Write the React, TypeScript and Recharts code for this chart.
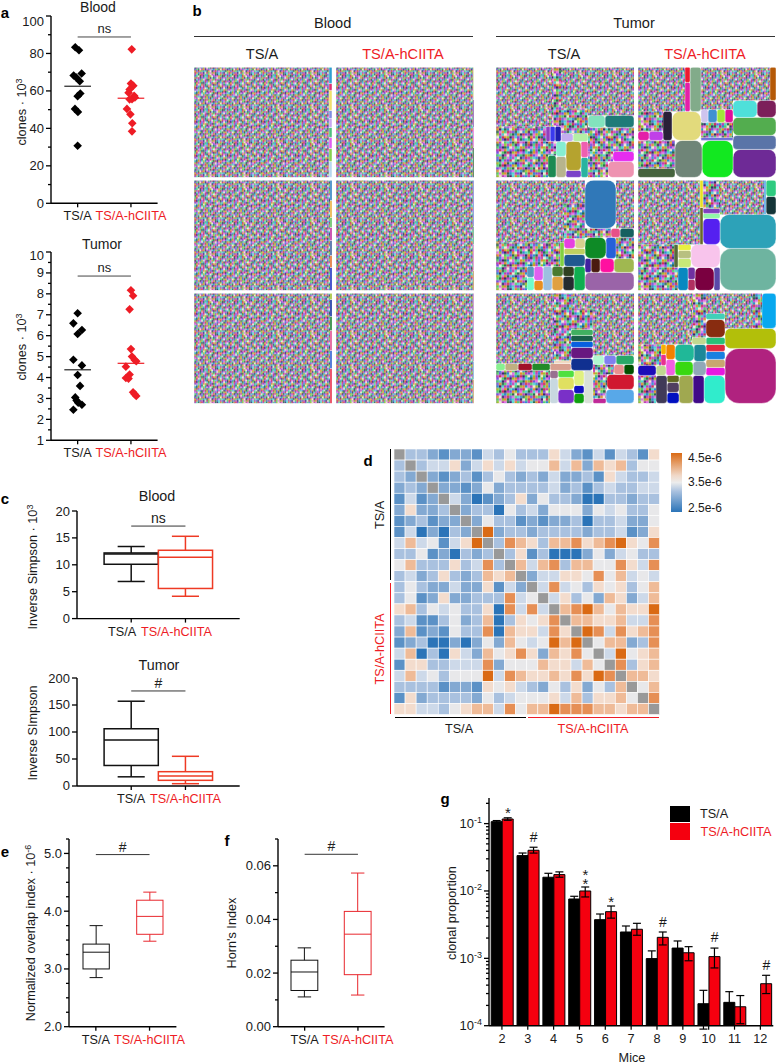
import React from "react";
import {
  BarChart,
  Bar,
  ErrorBar,
  ReferenceDot,
  ReferenceLine,
  Scatter,
  ScatterChart,
  Treemap,
  XAxis,
  YAxis,
} from "recharts";

const FONT = "'Liberation Sans', Arial, sans-serif";
const RED = "#ee1c25";
const groups = ["TS/A", "TS/A-hCIITA"];

// panel a, Blood
const bloodBlackX = [0.91, 1.05, 1.15, 0.85, 0.95, 1.08, 1.1, 1.0, 0.9, 1.01, 1.0];
const bloodBlackY = [83.3, 81.7, 69.3, 68.2, 67.1, 65.2, 58.6, 57.2, 50.4, 48.8, 30.7];
const bloodRedX = [3.03, 3.0, 3.09, 2.95, 2.91, 3.12, 3.04, 3.15, 2.95, 2.85, 2.98, 3.05, 3.04];
const bloodRedY = [82.2, 63.9, 62.8, 60.8, 59, 57.4, 55.6, 56.5, 55.5, 50.4, 47.5, 42.7, 38.4];
// panel a, Tumor
const tumorBlackX = [1.0, 0.84, 1.16, 1.0, 0.84, 1.16, 1.0, 1.09, 0.91, 0.96, 1.02, 1.16, 0.84];
const tumorBlackY = [7.07, 6.59, 6.27, 6.08, 4.85, 4.58, 4.12, 3.6, 3.05, 2.9, 2.8, 2.7, 2.46];
const tumorRedX = [3.0, 3.08, 2.95, 3.0, 3.04, 3.14, 3.2, 2.81, 2.95, 2.81, 2.91, 3.08, 3.14, 3.2];
const tumorRedY = [8.17, 7.91, 7.26, 5.36, 5.0, 4.84, 4.78, 4.52, 4.14, 3.98, 3.95, 3.3, 3.2, 3.12];

// box plots: low whisker, q1, median, q3, high whisker
const cBloodBlack = [6.9, 10.1, 12, 12.2, 13.4];
const cBloodRed = [4.15, 5.6, 11.4, 12.7, 15.3];
const cTumorBlack = [17, 38, 85, 106, 157];
const cTumorRed = [4.3, 10.5, 18.5, 26.5, 55];
const eBlack = [2.85, 3.0, 3.29, 3.43, 3.75];
const eRed = [3.48, 3.6, 3.91, 4.19, 4.33];
const fBlack = [0.0111, 0.0135, 0.0204, 0.0248, 0.0294];
const fRed = [0.0118, 0.0194, 0.0345, 0.043, 0.0573];

// panel g
const miceCounts = ["2", "3", "4", "5", "6", "7", "8", "9", "10", "11", "12"];
const blackProp = [0.107, 0.0335, 0.016, 0.0076, 0.00375, 0.00246, 0.00099, 0.00142, 0.000212, 0.000222, undefined];
const blackTop = [0.111, 0.0366, 0.0183, 0.00834, 0.00455, 0.00302, 0.00129, 0.00181, 0.000335, 0.00032, undefined];
const redProp = [0.117, 0.0402, 0.0175, 0.01, 0.00493, 0.0027, 0.00205, 0.00121, 0.00106, 0.000191, 0.00042];
const redTop = [0.122, 0.0446, 0.0192, 0.01146, 0.00598, 0.00331, 0.00246, 0.00149, 0.00142, 0.00028, 0.00056];
const redLow = [0.112, 0.0365, 0.016, 0.00815, 0.00395, 0.0022, 0.00158, 0.00092, 0.00072, 0.000107, 0.0003];
const sigMice = ["2", "3", "5", "6", "8", "10", "12"];
const sigMarks = ["*", "#", "**", "*", "#", "#", "#"];
const sigHeights = [0.167, 0.0627, 0.0196, 0.00787, 0.00347, 0.00205, 0.000787];
const gTickDecades = [1e-4, 1e-3, 1e-2, 1e-1];
const gMinorFactors = [2, 3, 4, 5, 6, 7, 8, 9];

// panel d: colour level per cell, 0 = 2.5e-6 ... 9 = 4.5e-6, g = diagonal
const heatRows = [
  "g33212214353336421414316",
  "3g3446246464557472767355",
  "32g212313532324223164334",
  "232g22125233334231343344",
  "1412g4201236253320033233",
  "26223g233053425552545335",
  "123122g25331212230334225",
  "1402032g9233233332334126",
  "47451469g387637786789658",
  "335120323g36130002524533",
  "5733363483g7478377558648",
  "34236323767g244665857454",
  "353224226142g48453656357",
  "3512622333845g4635276247",
  "67354533608484g789757669",
  "341135237036568g77667448",
  "2712153380766486g9848678",
  "12300202527545979g577238",
  "470306427568627685g49567",
  "1663344482555766475g8367",
  "47453555948766768698g776",
  "333312216564325362537g57",
  "1623333253455564736675g8",
  "66443567748577988877677g",
];
const heatColors: Record<string, string> = {
  "0": "#2b74b8", "1": "#5b91c6", "2": "#83a9d2", "3": "#a9c1df", "4": "#cdd9e9",
  "5": "#e8e8ea", "6": "#f3dccd", "7": "#efbb98", "8": "#e68f55", "9": "#da6a14", g: "#999999",
};

// panel b: tile areas, one inner list per column or band of the
// treemap. The thousands of tiny clones can't be read one by one, so they are lumped
// into tiles drawn with a hand-typed texture (F = fine, C = coarse).
const F = "fine";
const C = "coarse";
const noiseRows = [
  "acdhbeikglafjcbdhegi", "hbfkdaicgejlbhfkadce", "ejgcibldhakfegicbjhd", "dkaehfgbjcildakehfgb",
  "giblcjedakhgbfdjclia", "bfhadkcigelbjahgdkec", "lcejgbfhdaikceblgjfa", "ahdkfiaclbgedjhakcib",
  "jegbchldfakibgecfldh", "cidlaejkhgbfdlcjiaeg", "fbkhgcadielhakbfgdjc", "dajeiblfcgkdbhjecail",
  "hgcfdkbeajlcgifadhbk", "ekalhjgdibfaekchlgcd", "bicgafechkdjlbgaeifh", "gflbdiakjehcfidgkbae",
  "adhkecgblfiajdhcbelg", "kjcfigdahbelgkafjcdi", "ebaldhjfcgikeblcdgha", "chigkbeladfjhcigakfb",
];
const noiseColors: Record<string, string> = {
  a: "#c040b8", b: "#50d070", c: "#3090d0", d: "#7a50e0", e: "#e09030", f: "#f0e8d0",
  g: "#2f6f50", h: "#d03060", i: "#50d8d0", j: "#a0c030", k: "#402a70", l: "#e070e8",
};

const bloodA1Sizes = [48, 40, 34, 30, 26, 24, 60, 22, 30, 14800];
const bloodA1Colors = ["#b8d8f0", "#88d050", "#e060f0", "#50c080", "#c8a8f0", "#8090e0", "#f0e070", "#e03070", "#30a0d0", F];
const bloodR1Sizes = [30, 20, 28, 36, 22, 24, 14900];
const bloodR1Colors = ["#105020", "#e060d0", "#7040a0", "#d0d8a8", "#30b0a0", "#e0e050", F];
const bloodA2Sizes = [46, 24, 30, 26, 20, 34, 22, 14900];
const bloodA2Colors = ["#2030c0", "#e07030", "#4060a0", "#c030a0", "#60c060", "#e8b040", "#3080c0", F];
const bloodR2Sizes = [20, 26, 18, 22, 15000];
const bloodR2Colors = ["#b08040", "#d070c0", "#40a070", "#6070d0", F];
const bloodA3Sizes = [70, 36, 40, 28, 34, 24, 14900];
const bloodA3Colors = ["#e8304a", "#3060d0", "#e05090", "#208030", "#1030a0", "#a0c030", F];
const bloodR3Sizes = [24, 18, 20, 15050];
const bloodR3Colors = ["#c09050", "#60a0d0", "#b070c0", F];

const tumorA1Sizes = [
  [373, 300, 190, 250, 1000, 320, 180, 2027],
  [[130, 100], [95, 405], [195, 144], [150, 100], 1700],
  [110, 90, 600, 1000],
  [88, 66, 50, 700],
  [500, 3000],
];
const tumorA1Colors = [
  ["#ee93b1", C, "#e62cf0", C, C, "#1f7b78", "#82e3bd", F],
  [["#2ab39f", "#ef5fb0"], ["#7a42c8", "#b5a32f"], ["#b7b48e", "#86eed2"], ["#1d8a52", C], C],
  ["#b4efa5", "#c3adef", C, F],
  ["#1f1fb0", "#3a3aee", "#8f3fc0", C],
  [C, F],
];
const tumorR1Sizes = [
  [1200, 600, 750, 330, 380, 200, 1270],
  [1140, 1000, [320, 1055]],
  [85, 500, [100, 105, 115, 96], 1369],
  [860, [270, 130, 90, 500]],
  [470, 145, 90, 2110],
];
const tumorR1Colors = [
  ["#6e2a96", "#5a74a8", "#53ad4f", "#7c1f5a", "#4ee0da", "#b55a08", F],
  ["#12e820", "#6f8578", ["#46643e", C]],
  ["#6e70d8", C, ["#e0109a", "#a2e43a", "#4090d0", "#cfc4ee"], F],
  ["#e2da7c", ["#2a2038", "#c040e8", "#e31fa8", C]],
  ["#82ab8a", "#e31fa8", "#ee1830", F],
];
const tumorA2Sizes = [
  [710, [225, 155, 100, 72], 300, [170, 350], 100, 64, 200, 700, 1260],
  [225, [130, 96], [125, 84], 170, [75, 100], [77, 70], 600],
  [200, 110, 84, 84, 600, 420],
  [84, 1200, 3400],
];
const tumorA2Colors = [
  ["#9a64a8", ["#a0b850", "#ff10a0", "#4a1a10", "#4020a0"], C, ["#2560d8", "#0e8a26"], "#156060", "#e85088", C, F, "#3078b8"],
  ["#0fae50", ["#252b30", "#304020"], ["#e0a040", "#4a7a30"], "#9cc0e0", ["#e89020", "#e060f0"], ["#70fccb", "#5898c0"], C],
  ["#205890", "#c0d060", "#d8d090", "#e640e0", C, F],
  ["#80d040", C, F],
];
const tumorR2Sizes = [
  [2300, 1850, 180, 170, 84, 1466],
  [136, 420, 77, 80, 225, 888],
  [640, [120, 110, 72], 96, 800],
  [430, 88, 77, 461],
  [110, 90, 4000],
];
const tumorR2Colors = [
  ["#6eb4a0", "#2da2b8", "#153538", "#2ecb80", "#50a8e0", F],
  ["#5a48a8", "#7a0040", "#b03060", "#7030a0", "#0888c0", C],
  ["#f8c4ec", ["#c8e878", "#b8c080", "#e8f040"], "#556b3a", C],
  ["#5520f0", "#90f8a8", "#8040c0", C],
  ["#686828", "#e8e020", F],
];
const tumorA3Sizes = [
  [[350, 60, 100], [350, 180], [84, 84, 180], 140, 96, 96, 2200],
  [255, [81, 72], 130, 184, [169, 100], [176, 56], 1500],
  [230, 200, 104, 105, 117, 400, 300],
  [130, 107, 84, 80, 70, 49, 1000, 3500],
];
const tumorA3Colors = [
  [["#58a8e8", "#c02898", C], ["#d01830", C], ["#005000", "#e89090", C], "#28a868", "#8080f0", "#b0f8d0", F],
  ["#d8e0d8", ["#10a010", "#1010c0"], "#e0f080", "#7a30c8", ["#e0e060", "#50e040"], ["#c8d8e0", "#987090"], C],
  ["#103090", "#681880", "#0860e0", "#186048", "#40b060", C, F],
  ["#d8a090", "#228a28", "#a01028", "#c0b080", "#88f090", "#f0d8c0", C, F],
];
const tumorR3Sizes = [
  [2800, 1000, 495, 300, 1015],
  [588, 308, 392, [128, 120, 88], [315, 500]],
  [160, 160, 143, 132, 132, 333, 105, 400],
  [[175, 252, 196, 338], [143, 119, 96, 195, 56, 49, 480]],
  [96, 600, 2730],
];
const tumorR3Colors = [
  ["#b0227f", "#b2bf0a", "#08a8ee", C, F],
  ["#30eccc", "#400a88", "#a0a850", ["#0010c0", "#504060", "#606820"], ["#403a58", C]],
  ["#e818e0", "#c8a870", "#1880e0", "#e02840", "#28c078", "#882c10", "#40d0b8", F],
  [["#90a8b8", "#38d810", "#1c8898", "#20b898"], ["#f060e0", "#f08000", "#c0d890", "#1c0cb8", "#e83090", "#f8b000", C]],
  ["#c0d890", C, F],
];

// layout helpers
const AXIS_W = 50;
const AXIS_H = 28;
const PAD = 6;
const RIGHT = 26;

const chartSize = (w: number, h: number) => ({
  width: w + AXIS_W + RIGHT,
  height: h + PAD + AXIS_H,
  margin: { top: PAD, right: RIGHT, left: 0, bottom: 0 },
});

function Plot({ left, top, children }: any) {
  return <div style={{ position: "absolute", left: left - AXIS_W, top: top - PAD }}>{children}</div>;
}

function Txt({ x, y, size = 12.7, color = "#1a1a1a", bold, rotate = 0, children }: any) {
  return (
    <div
      style={{
        position: "absolute",
        left: x,
        top: y,
        transform: `translate(-50%,-50%) rotate(${rotate}deg)`,
        whiteSpace: "nowrap",
        fontSize: size,
        lineHeight: 1,
        color,
        fontWeight: bold ? 700 : 400,
      }}
    >
      {children}
    </div>
  );
}

const Sup = ({ children }: any) => (
  <span style={{ fontSize: 9, position: "relative", top: -4.5 }}>{children}</span>
);

const Rule = ({ x, y, w, h = 1, color = "#333" }: any) => (
  <div style={{ position: "absolute", left: x, top: y, width: w, height: h, background: color }} />
);

// y axis tick with a longer mark and a label on major values only
const yTick = (major: number[], fmt: (v: number) => any, nudge: Record<number, number> = {}, size = 13) =>
  function YTick(p: any) {
    const v = p.payload.value;
    const isMajor = major.some((m) => Math.abs(m - v) < m * 1e-6 + 1e-12);
    return (
      <g>
        <line x1={p.x} x2={p.x - (isMajor ? 5 : 3)} y1={p.y} y2={p.y} stroke="#000" strokeWidth={1.3} />
        {isMajor && (
          <text x={p.x - 7} y={p.y + 4.5 + (nudge[v] || 0)} textAnchor="end" fontSize={size} fill="#1a1a1a">
            {fmt(v)}
          </text>
        )}
      </g>
    );
  };

const groupTick = (dx = 0, dy = 17) =>
  function GroupTick(p: any) {
    return (
      <g>
        <line x1={p.x} x2={p.x} y1={p.y} y2={p.y + 4} stroke="#000" strokeWidth={1.3} />
        <text x={p.x + dx} y={p.y + dy} textAnchor="middle" fontSize={12.7} fill={p.index === 0 ? "#1a1a1a" : RED}>
          {groups[p.index]}
        </text>
      </g>
    );
  };

const Diamond = (p: any) => (
  <path d={`M${p.cx} ${p.cy - 4.3}L${p.cx + 4.3} ${p.cy}L${p.cx} ${p.cy + 4.3}L${p.cx - 4.3} ${p.cy}Z`} fill={p.fill} />
);

const axisLine = { stroke: "#000", strokeWidth: 1.4 };

const toPoints = (xs: number[], ys: number[]) => xs.map((x, i) => ({ x, y: ys[i] }));

function DotPanel({ w, h, domain, ticks, major, nudge, black, red, meanBlack, meanRed, bracket }: any) {
  return (
    <ScatterChart {...chartSize(w, h)}>
      <XAxis type="number" dataKey="x" domain={[0, 4]} ticks={[1, 3]} interval={0} height={AXIS_H} axisLine={axisLine} tickLine={false} tickSize={0} tickMargin={0} tick={groupTick()} />
      <YAxis type="number" dataKey="y" domain={domain} ticks={ticks} interval={0} width={AXIS_W} axisLine={axisLine} tickLine={false} tickSize={0} tickMargin={0} tick={yTick(major, String, nudge)} />
      <Scatter data={black} fill="#000" shape={Diamond} isAnimationActive={false} />
      <Scatter data={red} fill={RED} shape={Diamond} isAnimationActive={false} />
      <ReferenceLine segment={[{ x: 0.5, y: meanBlack }, { x: 1.5, y: meanBlack }]} stroke="#222" strokeWidth={1.2} />
      <ReferenceLine segment={[{ x: 2.5, y: meanRed }, { x: 3.5, y: meanRed }]} stroke={RED} strokeWidth={1.2} />
      <ReferenceLine segment={[{ x: 1, y: bracket }, { x: 3, y: bracket }]} stroke="#444" strokeWidth={1} label={{ value: "ns", position: "top", offset: 4, fontSize: 13, fill: "#222" }} />
    </ScatterChart>
  );
}

function BoxShape({ x, y, width, height, payload, color, line }: any) {
  const [low, q1, med, q3, high] = payload.box;
  const at = (v: number) => y + ((high - v) / (high - low)) * height;
  const cx = x + width / 2;
  return (
    <g stroke={color} strokeWidth={line} fill="none">
      <line x1={cx} x2={cx} y1={at(high)} y2={at(q3)} />
      <line x1={cx} x2={cx} y1={at(q1)} y2={at(low)} />
      <line x1={cx - width / 4} x2={cx + width / 4} y1={at(high)} y2={at(high)} />
      <line x1={cx - width / 4} x2={cx + width / 4} y1={at(low)} y2={at(low)} />
      <rect x={x} y={at(q3)} width={width} height={at(q1) - at(q3)} />
      <line x1={x} x2={x + width} y1={at(med)} y2={at(med)} />
    </g>
  );
}

function BoxPanel({ w, h, domain, ticks, major, fmt, black, red, boxW, pad, bracket, mark, line, redColor, labelDx }: any) {
  const data = [
    { name: groups[0], box: black, range: [black[0], black[4]], color: "#111" },
    { name: groups[1], box: red, range: [red[0], red[4]], color: redColor },
  ];
  return (
    <BarChart {...chartSize(w, h)} data={data} barCategoryGap={0}>
      <XAxis dataKey="name" padding={{ left: pad, right: pad }} interval={0} height={AXIS_H} axisLine={axisLine} tickLine={false} tickSize={0} tickMargin={0} tick={groupTick(labelDx)} />
      <YAxis type="number" domain={domain} ticks={ticks} interval={0} width={AXIS_W} axisLine={axisLine} tickLine={false} tickSize={0} tickMargin={0} tick={yTick(major, fmt)} />
      <Bar
        dataKey="range"
        barSize={boxW}
        isAnimationActive={false}
        shape={(p: any) => <BoxShape {...p} color={p.payload.color} line={line} />}
      />
      <ReferenceLine
        segment={[{ x: groups[0], y: bracket }, { x: groups[1], y: bracket }]}
        stroke="#333"
        strokeWidth={1}
        label={{ value: mark, position: "top", offset: 3, fontSize: 14, fill: "#222" }}
      />
    </BarChart>
  );
}

const gTable = miceCounts.map((name, i) => ({
  name,
  black: blackProp[i],
  red: redProp[i],
  blackErr: blackProp[i] === undefined ? undefined : [(blackTop[i] as number) - (blackProp[i] as number), (blackTop[i] as number) - (blackProp[i] as number)],
  redErr: [redProp[i] - redLow[i], redTop[i] - redProp[i]],
}));
const gTicks = [
  ...gTickDecades.flatMap((d) => [d, ...gMinorFactors.map((f) => d * f)]),
].filter((v) => v <= 0.24);
const gLabel = (v: number) => (
  <>
    10
    <tspan dy={-5} fontSize={9}>{Math.round(Math.log10(v))}</tspan>
  </>
);

function MiceTick(p: any) {
  return (
    <g>
      <line x1={p.x} x2={p.x} y1={p.y} y2={p.y + 4} stroke="#000" strokeWidth={1.2} />
      <text x={p.x} y={p.y + 17} textAnchor="middle" fontSize={12.7} fill="#1a1a1a">{p.payload.value}</text>
    </g>
  );
}

// stacked asterisks go into one text element, one tspan per line
const SigMark = (mark: string) =>
  function SigShape(p: any) {
    const star = mark[0] === "*";
    return (
      <text y={p.cy + (star ? 9 : 5)} textAnchor="middle" fontSize={star ? 15 : 14} fill="#1a1a1a">
        {mark === "**" ? (
          <>
            <tspan x={p.cx + 6}>*</tspan>
            <tspan x={p.cx + 6} dy={9}>*</tspan>
          </>
        ) : (
          <tspan x={p.cx + 6}>{mark}</tspan>
        )}
      </text>
    );
  };

function ClonePanel() {
  const size = { width: 284.3 + AXIS_W + 2, height: 227.7 + PAD + AXIS_H, margin: { top: PAD, right: 2, left: 0, bottom: 0 } };
  return (
    <BarChart {...size} data={gTable} barGap={0} barCategoryGap="8.5%">
      <XAxis dataKey="name" interval={0} height={AXIS_H} axisLine={axisLine} tickLine={false} tickSize={0} tickMargin={0} tick={MiceTick} />
      <YAxis scale="log" type="number" domain={[1e-4, 0.24]} allowDataOverflow ticks={gTicks} interval={0} width={AXIS_W} axisLine={axisLine} tickLine={false} tickSize={0} tickMargin={0} tick={yTick(gTickDecades, gLabel)} />
      <Bar dataKey="black" fill="#000" stroke="#000" isAnimationActive={false}>
        <ErrorBar dataKey="blackErr" width={4} stroke="#000" strokeWidth={1.2} isAnimationActive={false} />
      </Bar>
      <Bar dataKey="red" fill="#f5000f" stroke="#000" strokeWidth={1} isAnimationActive={false}>
        <ErrorBar dataKey="redErr" width={4} stroke="#000" strokeWidth={1.2} isAnimationActive={false} />
      </Bar>
      {sigMice.map((name, i) => (
        <ReferenceDot key={i} x={name} y={sigHeights[i]} r={0} shape={SigMark(sigMarks[i])} />
      ))}
    </BarChart>
  );
}

const heatPoints = heatRows.flatMap((row, r) =>
  row.split("").map((level, c) => ({ col: c + 0.5, row: r + 0.5, level }))
);
const HEAT_SIZE = 265.5;

function HeatCell(p: any) {
  const cell = HEAT_SIZE / heatRows.length;
  return (
    <rect x={p.cx - cell / 2} y={p.cy - cell / 2} width={cell} height={cell} fill={heatColors[p.payload.level]} stroke="#fff" strokeWidth={0.6} />
  );
}

function Heatmap() {
  return (
    <ScatterChart width={HEAT_SIZE} height={HEAT_SIZE} margin={{ top: 0, right: 0, left: 0, bottom: 0 }}>
      <XAxis type="number" dataKey="col" domain={[0, 24]} hide />
      <YAxis type="number" dataKey="row" domain={[0, 24]} reversed hide />
      <Scatter data={heatPoints} shape={HeatCell} isAnimationActive={false} />
    </ScatterChart>
  );
}

function Tile({ x, y, width, height, tileColor }: any) {
  if (!tileColor) return null;
  const noise = tileColor === F || tileColor === C;
  return (
    <rect
      x={x}
      y={y}
      width={width}
      height={height}
      rx={noise ? 0 : Math.min(width, height) * 0.28}
      fill={noise ? `url(#${tileColor}Noise)` : tileColor}
      stroke={noise ? "none" : "#fff"}
      strokeWidth={0.4}
    />
  );
}

const toNodes = (sizes: any[], colors: any[], path = "t"): any[] =>
  sizes.map((size, i) =>
    Array.isArray(size)
      ? { name: `${path}${i}`, children: toNodes(size, colors[i], `${path}${i}-`) }
      : { name: `${path}${i}`, size, tileColor: colors[i] }
  );

// the reference grows from its bottom right corner, so the treemap is turned round
function ClonePatch({ left, top, sizes, colors }: any) {
  return (
    <div style={{ position: "absolute", left, top, transform: "rotate(180deg)", filter: "blur(0.35px)" }}>
      <Treemap width={138} height={110.4} data={toNodes(sizes, colors)} dataKey="size" type="flat" aspectRatio={0.5} stroke="none" isAnimationActive={false} isUpdateAnimationActive={false} content={<Tile />} />
    </div>
  );
}

function NoisePattern({ id, cell }: any) {
  const side = noiseRows.length * cell;
  return (
    <pattern id={id} patternUnits="userSpaceOnUse" width={side} height={side}>
      {noiseRows.flatMap((row, r) =>
        row.split("").map((ch, c) => (
          <rect key={`${r}-${c}`} x={c * cell} y={r * cell} width={cell} height={cell} fill={noiseColors[ch]} />
        ))
      )}
    </pattern>
  );
}

const range = (from: number, to: number, step: number) => {
  const out: number[] = [];
  for (let k = 0; from + k * step <= to + 1e-9; k++) out.push(Number((from + k * step).toFixed(4)));
  return out;
};

export default function App() {
  const colX = [194.3, 336, 496, 637.7];
  const rowY = [66.7, 180, 292.7];
  return (
    <div style={{ position: "absolute", left: 0, top: 0, width: 776, height: 1063, overflow: "hidden", background: "#fff", fontFamily: FONT }}>
      <svg width={0} height={0} style={{ position: "absolute" }}>
        <defs>
          <NoisePattern id="fineNoise" cell={1.7} />
          <NoisePattern id="coarseNoise" cell={2.6} />
        </defs>
      </svg>

      {/* panel a */}
      <Txt x={5} y={12} size={15} bold color="#000">a</Txt>
      <Txt x={98} y={7} size={14}>Blood</Txt>
      <Txt x={21.7} y={112} rotate={-90}>clones · 10<Sup>3</Sup></Txt>
      <Plot left={50.7} top={15.7}>
        <DotPanel w={106.6} h={187.3} domain={[0, 100]} ticks={range(0, 100, 10)} major={range(0, 100, 20)} nudge={{ 100: 6 }}
          black={toPoints(bloodBlackX, bloodBlackY)} red={toPoints(bloodRedX, bloodRedY)} meanBlack={62.5} meanRed={56.1} bracket={88.8} />
      </Plot>
      <Txt x={102} y={244} size={14}>Tumor</Txt>
      <Txt x={21.7} y={347} rotate={-90}>clones · 10<Sup>3</Sup></Txt>
      <Plot left={50.7} top={251.7}>
        <DotPanel w={106.6} h={188.3} domain={[1, 10]} ticks={range(1, 10, 0.5)} major={range(1, 10, 1)} nudge={{ 10: 3.3 }}
          black={toPoints(tumorBlackX, tumorBlackY)} red={toPoints(tumorRedX, tumorRedY)} meanBlack={4.37} meanRed={4.68} bracket={8.85} />
      </Plot>

      {/* panel b */}
      <Txt x={197} y={10} size={15} bold color="#000">b</Txt>
      <Txt x={332.7} y={23} size={14.6}>Blood</Txt>
      <Txt x={634} y={23} size={14.6}>Tumor</Txt>
      <Rule x={194} y={36} w={279} />
      <Rule x={496} y={36} w={279} />
      <Txt x={262} y={54} size={14.6}>TS/A</Txt>
      <Txt x={403} y={54} size={14.6} color={RED}>TS/A-hCIITA</Txt>
      <Txt x={564} y={54} size={14.6}>TS/A</Txt>
      <Txt x={705} y={54} size={14.6} color={RED}>TS/A-hCIITA</Txt>
      <ClonePatch left={colX[0]} top={rowY[0]} sizes={bloodA1Sizes} colors={bloodA1Colors} />
      <ClonePatch left={colX[1]} top={rowY[0]} sizes={bloodR1Sizes} colors={bloodR1Colors} />
      <ClonePatch left={colX[0]} top={rowY[1]} sizes={bloodA2Sizes} colors={bloodA2Colors} />
      <ClonePatch left={colX[1]} top={rowY[1]} sizes={bloodR2Sizes} colors={bloodR2Colors} />
      <ClonePatch left={colX[0]} top={rowY[2]} sizes={bloodA3Sizes} colors={bloodA3Colors} />
      <ClonePatch left={colX[1]} top={rowY[2]} sizes={bloodR3Sizes} colors={bloodR3Colors} />
      <ClonePatch left={colX[2]} top={rowY[0]} sizes={tumorA1Sizes} colors={tumorA1Colors} />
      <ClonePatch left={colX[3]} top={rowY[0]} sizes={tumorR1Sizes} colors={tumorR1Colors} />
      <ClonePatch left={colX[2]} top={rowY[1]} sizes={tumorA2Sizes} colors={tumorA2Colors} />
      <ClonePatch left={colX[3]} top={rowY[1]} sizes={tumorR2Sizes} colors={tumorR2Colors} />
      <ClonePatch left={colX[2]} top={rowY[2]} sizes={tumorA3Sizes} colors={tumorA3Colors} />
      <ClonePatch left={colX[3]} top={rowY[2]} sizes={tumorR3Sizes} colors={tumorR3Colors} />

      {/* panel c */}
      <Txt x={5} y={498} size={15} bold color="#000">c</Txt>
      <Txt x={157} y={496} size={14.3}>Blood</Txt>
      <Txt x={33} y={567} rotate={-90}>Inverse Simpson · 10<Sup>3</Sup></Txt>
      <Plot left={77.3} top={510.7}>
        <BoxPanel w={162.7} h={107.6} domain={[0, 20]} ticks={range(0, 20, 5)} major={range(0, 20, 5)} fmt={String} black={cBloodBlack} red={cBloodRed}
          boxW={54.2} pad={27.1} bracket={17.2} mark="ns" line={1.5} redColor="#ee3a24" labelDx={-9} />
      </Plot>
      <Txt x={159} y={665} size={14.3}>Tumor</Txt>
      <Txt x={33} y={733} rotate={-90}>Inverse SImpson</Txt>
      <Plot left={77.3} top={678.3}>
        <BoxPanel w={162.7} h={108} domain={[0, 200]} ticks={range(0, 200, 50)} major={range(0, 200, 50)} fmt={String} black={cTumorBlack} red={cTumorRed}
          boxW={54.2} pad={27.1} bracket={176} mark="#" line={1.5} redColor="#ee3a24" labelDx={0} />
      </Plot>

      {/* panel d */}
      <Txt x={368} y={460} size={15} bold color="#000">d</Txt>
      <div style={{ position: "absolute", left: 394.3, top: 449 }}>
        <Heatmap />
      </div>
      <Rule x={389.5} y={449} w={1.5} h={131} color="#000" />
      <Rule x={389.5} y={582.7} w={1.5} h={131} color={RED} />
      <Rule x={395} y={716.5} w={130.7} h={1.5} color="#000" />
      <Rule x={528} y={716.5} w={131.3} h={1.5} color={RED} />
      <Txt x={380} y={515} rotate={-90}>TS/A</Txt>
      <Txt x={380} y={649} rotate={-90} color={RED}>TS/A-hCIITA</Txt>
      <Txt x={459} y={728.5}>TS/A</Txt>
      <Txt x={593} y={728.5} color={RED}>TS/A-hCIITA</Txt>
      <div style={{ position: "absolute", left: 671, top: 453.3, width: 10.5, height: 58.5, background: "linear-gradient(#da6a14,#f0d8c8 38%,#ececec 50%,#a9c1df 65%,#2b74b8)" }} />
      <Txt x={705} y={458} size={12}>4.5e-6</Txt>
      <Txt x={705} y={482} size={12}>3.5e-6</Txt>
      <Txt x={705} y={508} size={12}>2.5e-6</Txt>

      {/* panel e */}
      <Txt x={5} y={851} size={15} bold color="#000">e</Txt>
      <Txt x={30.7} y={933} rotate={-90}>Normalized overlap index · 10<Sup>-6</Sup></Txt>
      <Plot left={69.3} top={839}>
        <BoxPanel w={107.4} h={187.7} domain={[2, 5.25]} ticks={range(2, 5.25, 0.25)} major={[2, 3, 4, 5]} fmt={(v: number) => v.toFixed(1)} black={eBlack} red={eRed}
          boxW={26.3} pad={0} bracket={4.98} mark="#" line={1} redColor="#e8262c" labelDx={0} />
      </Plot>

      {/* panel f */}
      <Txt x={227} y={840} size={15} bold color="#000">f</Txt>
      <Txt x={231.7} y={933} rotate={-90}>Horn's Index</Txt>
      <Plot left={277.7} top={839}>
        <BoxPanel w={106.6} h={187.7} domain={[0, 0.07]} ticks={range(0, 0.07, 0.01)} major={[0, 0.02, 0.04, 0.06]} fmt={(v: number) => v.toFixed(2)} black={fBlack} red={fRed}
          boxW={26.8} pad={0} bracket={0.0643} mark="#" line={1} redColor="#e8262c" labelDx={0} />
      </Plot>

      {/* panel g */}
      <Txt x={445} y={798} size={15} bold color="#000">g</Txt>
      <Txt x={451.7} y={912.7} rotate={-90}>clonal proportion</Txt>
      <Txt x={632} y={1057.5}>Mice</Txt>
      <Plot left={489.3} top={798.3}>
        <ClonePanel />
      </Plot>
      <div style={{ position: "absolute", left: 670, top: 806, width: 20, height: 16, background: "#000" }} />
      <div style={{ position: "absolute", left: 670, top: 823, width: 20, height: 17, background: "#f5000f" }} />
      <Txt x={714} y={814}>TS/A</Txt>
      <Txt x={736} y={831.5} color={RED}>TS/A-hCIITA</Txt>
    </div>
  );
}
